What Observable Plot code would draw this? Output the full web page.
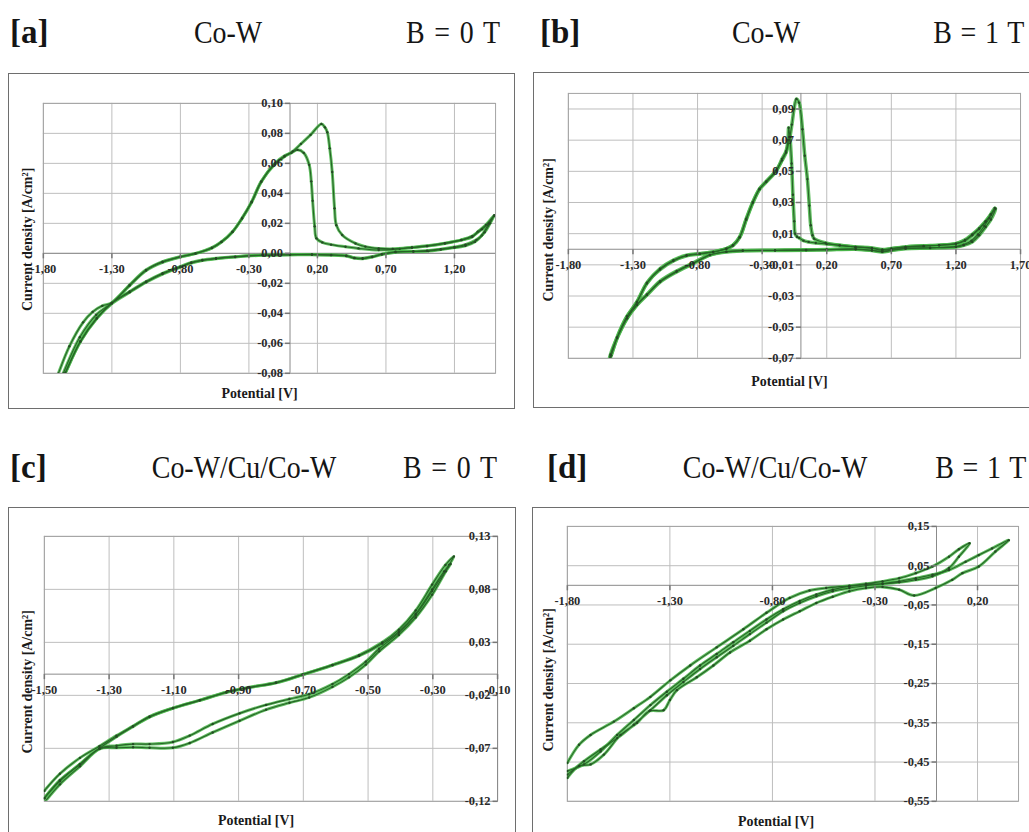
<!DOCTYPE html>
<html><head><meta charset="utf-8">
<script src="https://cdn.jsdelivr.net/npm/d3@7"></script>
<script src="https://cdn.jsdelivr.net/npm/@observablehq/plot@0.6"></script>
<style>
html,body{margin:0;padding:0;background:#fff;}
body{width:1029px;height:832px;overflow:hidden;position:relative;font-family:"Liberation Serif","Times New Roman",serif;}
.t{position:absolute;white-space:nowrap;color:#151515;font-size:31px;line-height:1;transform:translate(-50%,-50%) scaleX(0.9);}
.tr{position:absolute;white-space:nowrap;color:#151515;font-size:31px;line-height:1;transform-origin:100% 50%;transform:translate(0,-50%) scaleX(0.9);word-spacing:2px;}
.b{word-spacing:3px;}
.lab{position:absolute;font-size:33px;font-weight:bold;line-height:1;color:#151515;transform:translate(0,-50%);}
.frame{position:absolute;border:1px solid #6e6e6e;box-sizing:border-box;overflow:hidden;background:#fff;}
.frame svg{position:absolute;left:-1px;top:-1px;}
</style></head><body>

<div class="lab" style="left:10px;top:32px">[a]</div>
<div class="t" style="left:228px;top:32px">Co-W</div>
<div class="t b" style="left:453px;top:32px">B = 0 T</div>
<div class="lab" style="left:540px;top:32px">[b]</div>
<div class="t" style="left:766px;top:32px">Co-W</div>
<div class="tr" style="right:5px;top:32px">B = 1 T</div>

<div class="lab" style="left:10px;top:467px">[c]</div>
<div class="t" style="left:244px;top:467px">Co-W/Cu/Co-W</div>
<div class="t b" style="left:450px;top:467px">B = 0 T</div>
<div class="lab" style="left:547px;top:467px">[d]</div>
<div class="t" style="left:775px;top:467px">Co-W/Cu/Co-W</div>
<div class="tr" style="right:3px;top:467px">B = 1 T</div>

<div class="frame" id="pa" style="left:8px;top:73px;width:507px;height:336px"></div>
<div class="frame" id="pb" style="left:533px;top:72px;width:500px;height:336px"></div>
<div class="frame" id="pc" style="left:8px;top:507px;width:508px;height:330px"></div>
<div class="frame" id="pd" style="left:532px;top:507px;width:500px;height:330px"></div>

<script>
// ---------- DATA (potential V, current density A/cm²) ----------
// Panel a: Co-W, B = 0 T
const aXTicks = [-1.8, -1.3, -0.8, -0.3, 0.2, 0.7, 1.2];
const aYTicks = [-0.08, -0.06, -0.04, -0.02, 0.0, 0.02, 0.04, 0.06, 0.08, 0.10];
const a1V = [-1.73, -1.69, -1.61, -1.51, -1.44, -1.37, -1.30, -1.17, -1.05, -0.93, -0.80, -0.69, -0.57, -0.50, -0.42, -0.35, -0.28, -0.21, -0.11, -0.04, 0.01, 0.055, 0.10, 0.14, 0.155, 0.165, 0.18, 0.193, 0.236, 0.30, 0.405, 0.50, 0.647, 0.80, 0.89, 1.00, 1.13, 1.25, 1.33, 1.37, 1.43, 1.49,
  1.444, 1.40, 1.35, 1.28, 1.20, 1.10, 1.01, 0.90, 0.77, 0.67, 0.60, 0.53, 0.47, 0.41, 0.30, 0.16, 0.0, -0.20, -0.40, -0.54, -0.64, -0.72, -0.80, -0.93, -1.05, -1.17, -1.30, -1.41, -1.53, -1.64, -1.70];
const a1I = [-0.090, -0.080, -0.062, -0.046, -0.039, -0.035, -0.033, -0.021, -0.011, -0.0055, -0.0022, 0.0, 0.0038, 0.0077, 0.0144, 0.0232, 0.034, 0.0476, 0.060, 0.065, 0.067, 0.069, 0.067, 0.059, 0.048, 0.035, 0.018, 0.010, 0.0073, 0.0058, 0.0044, 0.0033, 0.0022, 0.0030, 0.0038, 0.0048, 0.0066, 0.0088, 0.011, 0.0144, 0.019, 0.0254,
  0.0188, 0.012, 0.0077, 0.0050, 0.0038, 0.0025, 0.0015, 0.0012, 0.0011, -0.0005, -0.0022, -0.0033, -0.0030, -0.0015, -0.0010, -0.0007, -0.0009, -0.0011, -0.0022, -0.0033, -0.0044, -0.0060, -0.0088, -0.0133, -0.0188, -0.0254, -0.033, -0.043, -0.0586, -0.0796, -0.092];
const a2V = [-1.69, -1.655, -1.534, -1.414, -1.30, -1.17, -1.05, -0.93, -0.80, -0.69, -0.57, -0.50, -0.42, -0.35, -0.28, -0.21, -0.11, -0.04, 0.02, 0.08, 0.15, 0.229, 0.255, 0.272, 0.29, 0.308, 0.325, 0.338, 0.381, 0.478, 0.55, 0.647, 0.75, 0.89, 1.00, 1.13, 1.25, 1.33, 1.40, 1.45, 1.49,
  1.46, 1.42, 1.36, 1.28, 1.20, 1.10, 1.00, 0.90, 0.77, 0.67, 0.60, 0.53, 0.47, 0.41, 0.30, 0.16, 0.0, -0.20, -0.40, -0.54, -0.64, -0.72, -0.80, -0.93, -1.05, -1.17, -1.30, -1.41, -1.53, -1.64, -1.70];
const a2I = [-0.088, -0.080, -0.056, -0.041, -0.033, -0.0215, -0.0115, -0.006, -0.0025, -0.0002, 0.0035, 0.0075, 0.0142, 0.0235, 0.0345, 0.048, 0.0595, 0.0645, 0.068, 0.073, 0.079, 0.0863, 0.084, 0.0808, 0.070, 0.0542, 0.030, 0.0188, 0.0122, 0.0066, 0.0045, 0.0033, 0.0030, 0.0040, 0.0050, 0.0068, 0.0090, 0.0115, 0.016, 0.020, 0.025,
  0.020, 0.014, 0.009, 0.0058, 0.0042, 0.0028, 0.0018, 0.0013, 0.0008, -0.0008, -0.0025, -0.0036, -0.0032, -0.0018, -0.0012, -0.0009, -0.0010, -0.0013, -0.0024, -0.0036, -0.0048, -0.0065, -0.0092, -0.0138, -0.0193, -0.026, -0.0335, -0.0435, -0.059, -0.080, -0.092];

// Panel b: Co-W, B = 1 T
const bXTicks = [-1.8, -1.3, -0.8, -0.3, 0.2, 0.7, 1.2, 1.7];
const bYTicks = [-0.07, -0.05, -0.03, -0.01, 0.01, 0.03, 0.05, 0.07, 0.09];
const b1V = [-1.49, -1.474, -1.423, -1.346, -1.269, -1.192, -1.09, -0.987, -0.885, -0.782, -0.679, -0.577, -0.526, -0.474, -0.423, -0.372, -0.32, -0.269, -0.192, -0.146, -0.115, -0.10, -0.095, -0.085, -0.072, -0.062, -0.052, -0.045, -0.030, -0.014, 0.02, 0.06, 0.115, 0.20, 0.30, 0.42, 0.55, 0.63, 0.70, 0.81, 0.95, 1.07, 1.20, 1.27, 1.326, 1.38, 1.43, 1.47, 1.507,
  1.47, 1.43, 1.38, 1.326, 1.26, 1.20, 1.00, 0.81, 0.70, 0.63, 0.55, 0.424, 0.20, 0.04, -0.20, -0.45, -0.577, -0.705, -0.833, -0.962, -1.09, -1.192, -1.269, -1.346, -1.423, -1.474, -1.49];
const b1I = [-0.073, -0.0695, -0.057, -0.0433, -0.0337, -0.022, -0.0125, -0.007, -0.0038, -0.0028, -0.0017, 0.0004, 0.0026, 0.0079, 0.0196, 0.0303, 0.0388, 0.0431, 0.0500, 0.058, 0.063, 0.070, 0.078, 0.072, 0.055, 0.035, 0.018, 0.010, 0.008, 0.0073, 0.0055, 0.0047, 0.0040, 0.0034, 0.0025, 0.0015, 0.0008, -0.0002, 0.0005, 0.0015, 0.0022, 0.0026, 0.0036, 0.0055, 0.009, 0.013, 0.0175, 0.022, 0.026,
  0.019, 0.0143, 0.009, 0.0047, 0.0025, 0.0015, 0.0008, 0.0004, -0.0008, -0.0017, -0.0008, 0.0, -0.0004, -0.0006, -0.0008, -0.0010, -0.0017, -0.0038, -0.0092, -0.0145, -0.021, -0.0294, -0.0358, -0.0444, -0.057, -0.0675, -0.073];
const b2V = [-1.50, -1.47, -1.423, -1.346, -1.269, -1.192, -1.09, -0.987, -0.885, -0.782, -0.679, -0.577, -0.526, -0.474, -0.423, -0.372, -0.32, -0.269, -0.192, -0.146, -0.115, -0.09, -0.07, -0.053, -0.035, -0.014, 0.012, 0.03, 0.05, 0.065, 0.076, 0.09, 0.102, 0.192, 0.30, 0.424, 0.55, 0.63, 0.70, 0.81, 0.95, 1.07, 1.20, 1.27, 1.326, 1.38, 1.43, 1.47, 1.50,
  1.46, 1.42, 1.37, 1.32, 1.26, 1.20, 1.00, 0.81, 0.70, 0.63, 0.55, 0.424, 0.20, 0.04, -0.20, -0.45, -0.577, -0.705, -0.833, -0.962, -1.09, -1.192, -1.269, -1.346, -1.423, -1.47, -1.50];
const b2I = [-0.074, -0.068, -0.0565, -0.043, -0.034, -0.0215, -0.013, -0.0075, -0.0042, -0.003, -0.0018, 0.0003, 0.0024, 0.0076, 0.019, 0.0298, 0.0385, 0.0435, 0.0505, 0.057, 0.062, 0.070, 0.080, 0.090, 0.0964, 0.094, 0.077, 0.060, 0.045, 0.028, 0.0154, 0.009, 0.0068, 0.0040, 0.0025, 0.0015, 0.0005, -0.0006, 0.0002, 0.0015, 0.0020, 0.0026, 0.0036, 0.006, 0.0095, 0.0135, 0.018, 0.0225, 0.0265,
  0.020, 0.015, 0.0095, 0.0055, 0.003, 0.0018, 0.0010, 0.0006, -0.0005, -0.0014, -0.0006, 0.0002, -0.0002, -0.0004, -0.0006, -0.0008, -0.0015, -0.0035, -0.0088, -0.014, -0.0205, -0.029, -0.0355, -0.0442, -0.057, -0.068, -0.074];

// Panel c: Co-W/Cu/Co-W, B = 0 T
const cXTicks = [-1.5, -1.3, -1.1, -0.9, -0.7, -0.5, -0.3, -0.1];
const cYTicks = [-0.12, -0.07, -0.02, 0.03, 0.08, 0.13];
const c1V = [-1.50, -1.452, -1.39, -1.33, -1.277, -1.226, -1.175, -1.103, -1.02, -0.938, -0.867, -0.784, -0.702, -0.61, -0.528, -0.456, -0.405, -0.353, -0.302, -0.261, -0.235,
  -0.25, -0.302, -0.353, -0.405, -0.466, -0.507, -0.559, -0.61, -0.682, -0.743, -0.815, -0.897, -0.98, -1.051, -1.103, -1.175, -1.226, -1.277, -1.329, -1.39, -1.452, -1.50];
const c1I = [-0.110, -0.094, -0.079, -0.068, -0.058, -0.049, -0.040, -0.032, -0.0245, -0.017, -0.0124, -0.0079, -0.0003, 0.0088, 0.0179, 0.030, 0.042, 0.060, 0.0845, 0.103, 0.111,
  0.103, 0.0785, 0.0558, 0.039, 0.024, 0.0118, 0.0, -0.0094, -0.019, -0.0235, -0.029, -0.037, -0.047, -0.058, -0.064, -0.066, -0.066, -0.0675, -0.070, -0.085, -0.101, -0.117];
const c2V = [-1.50, -1.452, -1.39, -1.33, -1.277, -1.226, -1.175, -1.103, -1.02, -0.938, -0.867, -0.784, -0.702, -0.61, -0.528, -0.456, -0.405, -0.353, -0.302, -0.265, -0.245,
  -0.26, -0.302, -0.353, -0.405, -0.466, -0.507, -0.559, -0.61, -0.682, -0.743, -0.815, -0.897, -0.98, -1.051, -1.103, -1.175, -1.226, -1.277, -1.329, -1.39, -1.452, -1.50];
const c2I = [-0.117, -0.100, -0.085, -0.070, -0.059, -0.0495, -0.0405, -0.0322, -0.0248, -0.0173, -0.0127, -0.0082, -0.0006, 0.0084, 0.0172, 0.0288, 0.040, 0.057, 0.080, 0.097, 0.104,
  0.097, 0.075, 0.0535, 0.037, 0.0215, 0.009, -0.003, -0.012, -0.022, -0.027, -0.0335, -0.044, -0.055, -0.065, -0.0695, -0.0695, -0.069, -0.0695, -0.0705, -0.087, -0.104, -0.121];

// Panel d: Co-W/Cu/Co-W, B = 1 T
const dXTicks = [-1.8, -1.3, -0.8, -0.3, 0.2];
const dYTicks = [-0.55, -0.45, -0.35, -0.25, -0.15, -0.05, 0.05, 0.15];
const d1V = [-1.8, -1.743, -1.687, -1.573, -1.476, -1.395, -1.298, -1.201, -1.072, -0.942, -0.829, -0.716, -0.619, -0.538, -0.425, -0.344, -0.263, -0.182, -0.101, -0.02, 0.061, 0.109, 0.161,
  0.109, 0.061, -0.02, -0.101, -0.182, -0.263, -0.344, -0.425, -0.506, -0.586, -0.667, -0.748, -0.829, -0.91, -0.991, -1.072, -1.153, -1.234, -1.315, -1.395, -1.476, -1.557, -1.638, -1.719, -1.8];
const d1I = [-0.452, -0.406, -0.381, -0.347, -0.313, -0.284, -0.242, -0.204, -0.158, -0.112, -0.070, -0.032, -0.013, -0.0067, -0.001, 0.004, 0.010, 0.018, 0.031, 0.048, 0.073, 0.092, 0.107,
  0.073, 0.044, 0.023, 0.014, 0.0076, 0.004, 0.0017, -0.0025, -0.011, -0.0235, -0.040, -0.061, -0.087, -0.116, -0.145, -0.175, -0.204, -0.238, -0.271, -0.305, -0.343, -0.381, -0.423, -0.456, -0.473];
const d2V = [-1.8, -1.719, -1.638, -1.557, -1.476, -1.395, -1.315, -1.234, -1.153, -1.072, -0.991, -0.91, -0.829, -0.748, -0.667, -0.586, -0.506, -0.425, -0.344, -0.263, -0.182, -0.101, -0.02, 0.061, 0.142, 0.206, 0.271, 0.352,
  0.287, 0.206, 0.126, 0.077, -0.004, -0.109, -0.182, -0.263, -0.344, -0.425, -0.506, -0.586, -0.667, -0.748, -0.829, -0.91, -1.007, -1.088, -1.169, -1.266, -1.30, -1.331, -1.40, -1.46, -1.541, -1.622, -1.687, -1.743, -1.8];
const d2I = [-0.482, -0.448, -0.418, -0.389, -0.355, -0.318, -0.28, -0.246, -0.213, -0.183, -0.154, -0.124, -0.095, -0.066, -0.045, -0.028, -0.015, -0.0067, -0.0008, 0.004, 0.010, 0.018, 0.027, 0.039, 0.060, 0.077, 0.094, 0.115,
  0.086, 0.048, 0.031, 0.014, -0.0067, -0.026, -0.011, -0.004, -0.0067, -0.015, -0.029, -0.045, -0.066, -0.087, -0.112, -0.141, -0.171, -0.204, -0.234, -0.267, -0.292, -0.318, -0.320, -0.350, -0.381, -0.431, -0.456, -0.46, -0.49];

const xTitle = "Potential [V]";
const yTitle = "Current density [A/cm²]";

// ---------- DRAWING ----------
const fmt = d => d.toFixed(2).replace(".", ",");
const HALO = "#47b447", CORE = "#276427", DOTC = "#244a24";
const tickYSym = {draw(ctx) { ctx.moveTo(-5, 0); ctx.lineTo(0, 0); }};
const tickXSym = {draw(ctx) { ctx.moveTo(0, 0); ctx.lineTo(0, 5); }};

function panel(cfg) {
  const cycles = cfg.cycles.map(([V, I]) => V.map((v, k) => ({v, i: I[k]})));
  const marks = [
    Plot.ruleX(cfg.xTicks, {stroke: "#bdbdbd", strokeWidth: 1}),
    Plot.ruleY(cfg.yTicks, {stroke: "#bdbdbd", strokeWidth: 1}),
    Plot.frame({stroke: "#a3a3a3"}),
    Plot.ruleX([cfg.yAxisAt], {stroke: "#8a8a8a"}),
    Plot.ruleY([0], {stroke: "#8a8a8a"}),
  ];
  for (const data of cycles) {
    marks.push(Plot.line(data, {x: "v", y: "i", stroke: HALO, strokeWidth: cfg.halo, strokeOpacity: 0.85, curve: "catmull-rom", clip: true}));
  }
  for (const data of cycles) {
    marks.push(Plot.line(data, {x: "v", y: "i", stroke: CORE, strokeWidth: 1.1, curve: "catmull-rom", clip: true}));
    marks.push(Plot.dot(data, {x: "v", y: "i", r: 1.2, fill: DOTC, clip: true}));
  }
  marks.push(
    Plot.dot(cfg.yTicks, {x: () => cfg.yAxisAt, y: d => d, symbol: tickYSym, stroke: "#777", fill: "none"}),
    Plot.dot(cfg.xTicks, {x: d => d, y: () => 0, symbol: tickXSym, stroke: "#777", fill: "none"}),
    Plot.text(cfg.yTicks, {x: () => cfg.yAxisAt, y: d => d, text: fmt, textAnchor: "end", dx: -7, fontWeight: "bold", fontSize: 12.5, fill: "#2a2a2a"}),
    Plot.text(cfg.xTicks, {x: d => d, y: () => 0, text: fmt, dy: 16, fontWeight: "bold", fontSize: 12.5, fill: "#2a2a2a"}),
    Plot.text([xTitle], {frameAnchor: "bottom", textAnchor: "middle", lineAnchor: "middle", dx: cfg.xt[0], dy: cfg.xt[1], fontWeight: "bold", fontSize: 14, fill: "#1a1a1a"}),
    Plot.text([yTitle], {frameAnchor: "left", rotate: -90, textAnchor: "middle", lineAnchor: "middle", dx: cfg.yt[0], dy: cfg.yt[1], fontWeight: "bold", fontSize: 14, fill: "#1a1a1a"})
  );
  const svg = Plot.plot({
    width: cfg.width, height: cfg.height,
    marginTop: cfg.m[0], marginRight: cfg.m[1], marginBottom: cfg.m[2], marginLeft: cfg.m[3],
    x: {domain: cfg.xDomain, axis: null},
    y: {domain: cfg.yDomain, axis: null},
    style: {fontFamily: "'Liberation Serif', 'Times New Roman', serif", background: "transparent", overflow: "visible"},
    marks
  });
  document.querySelector(cfg.el).appendChild(svg);
}

panel({el: "#pa", width: 507, height: 336, m: [30, 18, 35, 35], xDomain: [-1.8, 1.5], yDomain: [-0.08, 0.10],
  xTicks: aXTicks, yTicks: aYTicks, yAxisAt: 0, halo: 3, cycles: [[a1V, a1I], [a2V, a2I]], xt: [-10, 20], yt: [-16, 1]});
panel({el: "#pb", width: 500, height: 336, m: [21, 11, 49, 35], xDomain: [-1.8, 1.7], yDomain: [-0.07, 0.10],
  xTicks: bXTicks, yTicks: bYTicks, yAxisAt: 0, halo: 3.6, cycles: [[b1V, b1I], [b2V, b2I]], xt: [-5, 23], yt: [-20, 4]});
panel({el: "#pc", width: 508, height: 330, m: [29, 17, 35, 36], xDomain: [-1.5, -0.1], yDomain: [-0.12, 0.13],
  xTicks: cXTicks, yTicks: cYTicks, yAxisAt: -0.1, halo: 3, cycles: [[c1V, c1I], [c2V, c2I]], xt: [-15, 19], yt: [-17, 13]});
panel({el: "#pd", width: 500, height: 330, m: [19, 12, 35, 35], xDomain: [-1.8, 0.4], yDomain: [-0.55, 0.15],
  xTicks: dXTicks, yTicks: dYTicks, yAxisAt: 0, halo: 3, cycles: [[d1V, d1I], [d2V, d2I]], xt: [-17, 20], yt: [-19, 16]});
</script>
</body></html>
